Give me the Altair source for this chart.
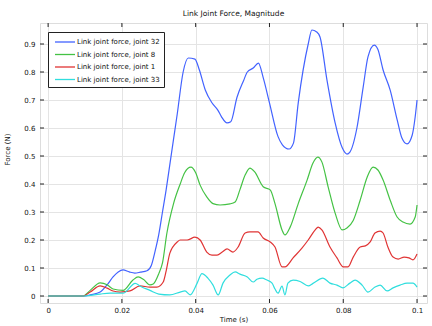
import altair as alt
import pandas as pd

series_names = [
    "Link joint force, joint 32",
    "Link joint force, joint 8",
    "Link joint force, joint 1",
    "Link joint force, joint 33",
]
series_colors = ["#4262ff", "#44c244", "#e03434", "#30dede"]

t32 = [0, 0.010, 0.0114, 0.0141, 0.016, 0.0176, 0.019, 0.0203, 0.022, 0.0235, 0.025, 0.0268, 0.028, 0.029,
       0.030, 0.031, 0.032, 0.033, 0.034, 0.035, 0.0366, 0.038, 0.0398, 0.041, 0.0426, 0.0444, 0.046, 0.047,
       0.0485, 0.0495, 0.0512, 0.053, 0.054, 0.0556, 0.057, 0.0583, 0.060, 0.0623, 0.0635, 0.0653, 0.0665,
       0.0678, 0.0705, 0.0715, 0.0728, 0.0737, 0.0756, 0.0778, 0.0797, 0.081, 0.0818, 0.0837, 0.0854, 0.0867,
       0.0884, 0.0894, 0.0908, 0.0927, 0.0946, 0.0959, 0.0973, 0.0987, 0.0995, 0.1]
f32 = [0, 0, 0.004, 0.014, 0.04, 0.068, 0.086, 0.093, 0.086, 0.082, 0.085, 0.09, 0.11, 0.16,
       0.22, 0.30, 0.38, 0.47, 0.56, 0.65, 0.80, 0.85, 0.846, 0.807, 0.736, 0.69, 0.664, 0.64,
       0.618, 0.622, 0.71, 0.77, 0.80, 0.814, 0.832, 0.78, 0.69, 0.57, 0.54, 0.525, 0.546,
       0.69, 0.90, 0.95, 0.943, 0.925, 0.77, 0.618, 0.53, 0.507, 0.514, 0.60, 0.746, 0.854,
       0.896, 0.88, 0.807, 0.736, 0.63, 0.564, 0.543, 0.575, 0.64, 0.70]

t8 = [0, 0.0095, 0.0114, 0.0141, 0.016, 0.0176, 0.0203, 0.023, 0.0244, 0.0258, 0.0276, 0.0285, 0.030, 0.031,
      0.0322, 0.034, 0.0358, 0.037, 0.0387, 0.040, 0.0412, 0.043, 0.0447, 0.0466, 0.0493, 0.0507, 0.052,
      0.0534, 0.0547, 0.056, 0.0583, 0.0602, 0.0615, 0.0634, 0.0642, 0.0656, 0.0678, 0.0702, 0.0718, 0.0731,
      0.0742, 0.0759, 0.0778, 0.0797, 0.081, 0.0827, 0.0846, 0.0865, 0.0881, 0.0894, 0.0908, 0.0927, 0.0946,
      0.0962, 0.0981, 0.0995, 0.1]
f8 = [0, 0, 0.02, 0.047, 0.04, 0.025, 0.02, 0.057, 0.068, 0.06, 0.04, 0.043, 0.08, 0.118,
      0.225, 0.33, 0.40, 0.44, 0.46, 0.44, 0.396, 0.354, 0.33, 0.325, 0.329, 0.336, 0.38,
      0.432, 0.457, 0.443, 0.39, 0.379, 0.33, 0.236, 0.218, 0.246, 0.33, 0.414, 0.475, 0.496,
      0.479, 0.39, 0.296, 0.236, 0.243, 0.27, 0.343, 0.425, 0.46, 0.45, 0.414, 0.343, 0.282,
      0.264, 0.257, 0.282, 0.325]

t1 = [0, 0.0095, 0.0114, 0.0141, 0.016, 0.0176, 0.0195, 0.0222, 0.0249, 0.0276, 0.0295, 0.0312, 0.032, 0.033,
      0.035, 0.0358, 0.0377, 0.0398, 0.0412, 0.043, 0.0444, 0.0458, 0.0472, 0.0485, 0.0501, 0.0515, 0.0534,
      0.0547, 0.0569, 0.0583, 0.0602, 0.0615, 0.0634, 0.0642, 0.0664, 0.0688, 0.0705, 0.0724, 0.0732, 0.0742,
      0.0764, 0.0783, 0.080, 0.0813, 0.0827, 0.0846, 0.086, 0.0873, 0.0886, 0.090, 0.0908, 0.0921, 0.0935,
      0.0949, 0.0965, 0.0978, 0.0989, 0.1]
f1 = [0, 0, 0.014, 0.036, 0.028, 0.018, 0.014, 0.018, 0.036, 0.032, 0.032, 0.05, 0.09, 0.153,
      0.193, 0.20, 0.20, 0.21, 0.20, 0.157, 0.146, 0.146, 0.157, 0.168, 0.157, 0.175, 0.225,
      0.229, 0.229, 0.207, 0.193, 0.175, 0.104, 0.104, 0.136, 0.171, 0.20, 0.236, 0.246, 0.236,
      0.175, 0.136, 0.104, 0.104, 0.139, 0.175, 0.179, 0.193, 0.225, 0.232, 0.225, 0.175, 0.139,
      0.132, 0.139, 0.136, 0.129, 0.15]

t33 = [0, 0.010, 0.0141, 0.0168, 0.0203, 0.0236, 0.025, 0.0276, 0.030, 0.033, 0.0358, 0.0371, 0.0385, 0.0404,
       0.0417, 0.0433, 0.0447, 0.0461, 0.0474, 0.0493, 0.0507, 0.052, 0.054, 0.0556, 0.0566, 0.058, 0.0593,
       0.0607, 0.0615, 0.0623, 0.0634, 0.0642, 0.065, 0.0664, 0.0683, 0.0705, 0.0718, 0.0745, 0.0764, 0.0783,
       0.0799, 0.0818, 0.0832, 0.0851, 0.0867, 0.0886, 0.090, 0.0919, 0.0935, 0.0954, 0.0973, 0.0989, 0.1]
f33 = [0, 0, 0.007, 0.01, 0.01, 0.045, 0.035, 0.02, 0.007, 0.004, 0.014, 0.018, 0.004, 0.046,
       0.08, 0.064, 0.039, 0.004, 0.046, 0.075, 0.086, 0.078, 0.068, 0.05, 0.06, 0.064, 0.057,
       0.046, 0.025, 0.01, 0.035, 0.004, 0.046, 0.057, 0.052, 0.036, 0.045, 0.064, 0.046, 0.039,
       0.029, 0.046, 0.057, 0.039, 0.014, 0.032, 0.039, 0.018, 0.029, 0.039, 0.046, 0.046, 0.032]

x_ticks = [0, 0.02, 0.04, 0.06, 0.08, 0.1]
y_ticks = [0, 0.1, 0.2, 0.3, 0.4, 0.5, 0.6, 0.7, 0.8, 0.9]

rows = []
for name, ts, fs in zip(series_names, [t32, t8, t1, t33], [f32, f8, f1, f33]):
    for t, f in zip(ts, fs):
        rows.append({"series": name, "t": t, "f": f})
df = pd.DataFrame(rows)
xt = pd.DataFrame({"t": x_ticks})
yt = pd.DataFrame({"f": y_ticks})

W, H = 387, 280
FONT = "DejaVu Sans"
TXT = "#111111"

xscale = alt.Scale(domain=[-0.0022, 0.1027], nice=False, zero=False)
yscale = alt.Scale(domain=[-0.025, 0.975], nice=False, zero=False)

common_axis = dict(
    domain=False, ticks=False, tickSize=0, grid=True, gridColor="#e4e4e4", gridWidth=1,
    labelFont=FONT, labelFontSize=7, labelColor=TXT,
    titleFont=FONT, titleFontSize=7, titleFontWeight="normal", titleColor=TXT,
)
xaxis = alt.Axis(values=x_ticks, format=".2~f", title="Time (s)", labelPadding=3, titlePadding=2,
                 **common_axis)
yaxis = alt.Axis(values=y_ticks, format=".1~f", title="Force (N)", labelPadding=5,
                 titleX=-33, titleY=126, titleAngle=-90, titleBaseline="middle", titleAlign="center",
                 **common_axis)

lines = alt.Chart(df).mark_line(strokeWidth=1.2, interpolate="monotone").encode(
    x=alt.X("t:Q", scale=xscale, axis=xaxis),
    y=alt.Y("f:Q", scale=yscale, axis=yaxis),
    color=alt.Color(
        "series:N",
        scale=alt.Scale(domain=series_names, range=series_colors),
        legend=alt.Legend(
            title=None, orient="none", legendX=8, legendY=9,
            strokeColor="#222222", fillColor="white", padding=4,
            symbolType="M-2,0H2", symbolSize=100, symbolStrokeWidth=1.3,
            symbolOffset=7, labelOffset=6, rowPadding=3.5,
            labelFontSize=7, labelFont=FONT, labelColor=TXT,
        ),
    ),
    order=alt.Order("ord:Q"),
).transform_calculate(ord="indexof(%s, datum.series)" % str(series_names))

rule_kw = dict(color="#222222", strokeWidth=1)
xb = alt.Chart(xt).mark_rule(**rule_kw).encode(
    x=alt.X("t:Q", scale=xscale, axis=xaxis), y=alt.value(H), y2=alt.value(H - 4))
xtp = alt.Chart(xt).mark_rule(**rule_kw).encode(
    x=alt.X("t:Q", scale=xscale, axis=xaxis), y=alt.value(0), y2=alt.value(4))
yl = alt.Chart(yt).mark_rule(**rule_kw).encode(
    y=alt.Y("f:Q", scale=yscale, axis=yaxis), x=alt.value(0), x2=alt.value(4))
yr = alt.Chart(yt).mark_rule(**rule_kw).encode(
    y=alt.Y("f:Q", scale=yscale, axis=yaxis), x=alt.value(W), x2=alt.value(W - 4))

chart = alt.layer(lines, xb, xtp, yl, yr).properties(
    width=W, height=H,
    title=alt.Title("Link Joint Force, Magnitude", fontSize=7.5, font=FONT,
                    fontWeight="normal", color=TXT, offset=5, anchor="middle"),
    autosize=alt.AutoSizeParams(type="none"),
    padding={"left": 40, "top": 23, "right": 5, "bottom": 23},
).configure_view(
    stroke="#222222", strokeWidth=1.3
).configure_axis(
    **common_axis
).configure(background="white")

chart.save("out.html", embed_options={"renderer": "svg", "actions": False})
